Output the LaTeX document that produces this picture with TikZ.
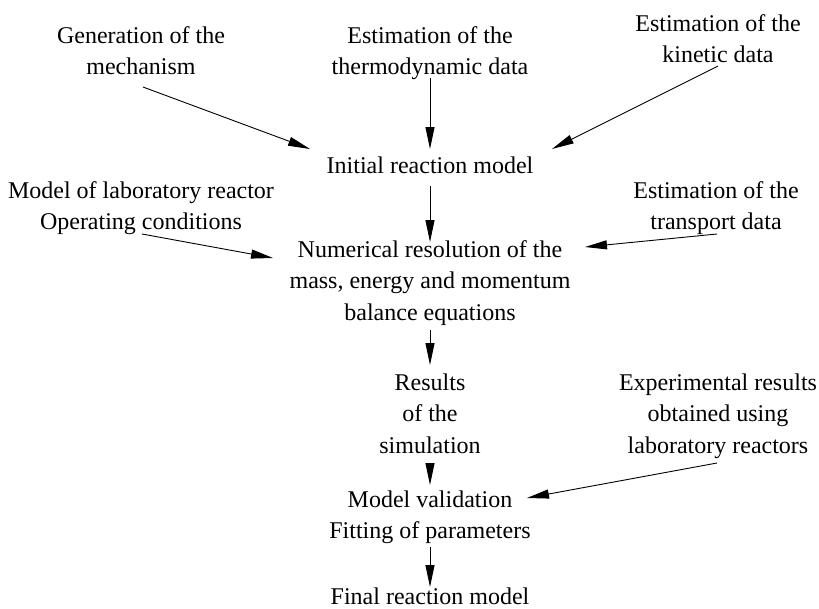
\documentclass[tikz,border=0pt]{standalone}
\usepackage{fontspec}
\setmainfont{Liberation Serif}
\usetikzlibrary{arrows.meta,calc}
\begin{document}
\begin{tikzpicture}[x=1pt,y=-1pt,
  lbl/.style={font=\fontsize{24}{31.5}\selectfont, align=center, anchor=base, inner sep=0pt, outer sep=0pt},
  arr/.style={line width=0.9pt, -{Triangle[length=22pt,width=9pt]}}]
\useasboundingbox (0,0) rectangle (819,608);
% node positions are the baselines of each text's last line
\node[lbl] (gen)    at (141,74.5)  {Generation of the\\mechanism};
\node[lbl] (thermo) at (430,74.5)  {Estimation of the\\thermodynamic data};
\node[lbl] (kin)    at (718,62.5)  {Estimation of the\\kinetic data};
\node[lbl] (init)   at (430,173)   {Initial reaction model};
\node[lbl] (lab)    at (141,229.5) {Model of laboratory reactor\\Operating conditions};
\node[lbl] (trans)  at (716,229.5) {Estimation of the\\transport data};
\node[lbl] (num)    at (430,320)   {Numerical resolution of the\\mass, energy and momentum\\balance equations};
\node[lbl] (res)    at (430,453)   {Results\\of the\\simulation};
\node[lbl] (exp)    at (718,453)   {Experimental results\\obtained using\\laboratory reactors};
\node[lbl] (val)    at (430,538.5) {Model validation\\Fitting of parameters};
\node[lbl] (fin)    at (430,604)   {Final reaction model};

\draw[arr] ($(gen.base)+(2,12.5)$)    -- ($(init.base)+(-120,-24)$);
\draw[arr] ($(thermo.base)+(0,3.5)$)  -- ($(init.base)+(0,-24)$);
\draw[arr] ($(kin.base)+(0,3.5)$)     -- ($(init.base)+(122,-24)$);
\draw[arr] ($(init.base)+(0,13)$)     -- ($(num.base)+(0,-78)$);
\draw[arr] ($(lab.base)+(1,4.5)$)     -- ($(num.base)+(-157,-62)$);
\draw[arr] ($(trans.base)+(1,4.5)$)   -- ($(num.base)+(155,-73)$);
\draw[arr] ($(num.base)+(0,10)$)      -- ($(res.base)+(0,-88)$);
\draw[arr] ($(res.base)+(0,10)$)      -- ($(val.base)+(0,-53.5)$);
\draw[arr] ($(exp.base)+(-1,10)$)     -- ($(val.base)+(97,-40.5)$);
\draw[arr] ($(val.base)+(0,8.5)$)     -- ($(fin.base)+(0,-17)$);
\end{tikzpicture}
\end{document}
